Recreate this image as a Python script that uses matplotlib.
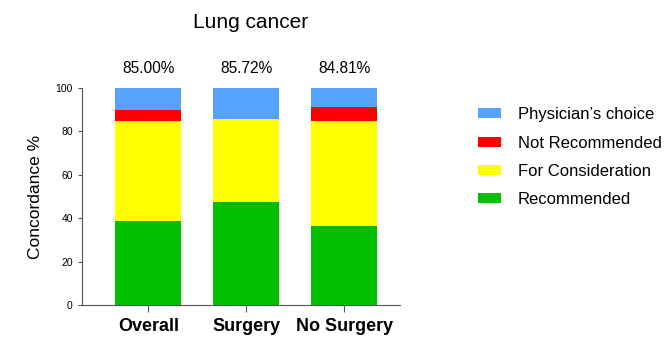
import numpy as np
import matplotlib.pyplot as plt

plt.rcParams['font.family'] = ['Liberation Sans', 'DejaVu Sans']

groups = ['Overall', 'Surgery', 'No Surgery']
recommended = [38.8, 47.5, 36.5]
consideration = [46.2, 38.22, 48.31]
not_recommended = [5.0, 0.0, 6.5]
physician = [10.0, 14.28, 8.69]
concordance = ['85.00%', '85.72%', '84.81%']

colors = {'Recommended': '#00C000', 'For Consideration': '#FFFF00',
          'Not Recommended': '#FF0000', "Physician\u2019s choice": '#55A3FF'}

fig = plt.figure(figsize=(6.71, 3.56), dpi=100)
ax = fig.add_axes([0.122, 0.143, 0.474, 0.61])

x = np.arange(len(groups))
w = 0.673
bottom = np.zeros(len(groups))
series = [('Recommended', recommended), ('For Consideration', consideration),
          ('Not Recommended', not_recommended), ("Physician\u2019s choice", physician)]
handles = []
for name, vals in series:
    b = ax.bar(x, vals, w, bottom=bottom, color=colors[name], label=name, linewidth=0)
    handles.append(b)
    bottom += np.array(vals)

for i, t in enumerate(concordance):
    ax.text(x[i], 109, t, ha='center', va='center', fontsize=11.2, clip_on=False)

ax.set_xlim(-0.68, 2.57)
ax.set_ylim(0, 100)
ax.set_yticks([0, 20, 40, 60, 80, 100])
ax.tick_params(axis='y', labelsize=7.5, length=3, color='#555555')
ax.set_xticks(x)
ax.set_xticklabels(groups, fontsize=13, fontweight='bold')
ax.tick_params(axis='x', length=5, color='#555555', pad=4)
for s in ['top', 'right']:
    ax.spines[s].set_visible(False)
for s in ['left', 'bottom']:
    ax.spines[s].set_color('#555555')

ax.set_ylabel('Concordance %', fontsize=12.5, labelpad=9)
fig.text(0.373, 0.938, 'Lung cancer', ha='center', va='center', fontsize=15)

leg = fig.legend(handles[::-1], [s[0] for s in series][::-1], loc='upper left',
                 bbox_to_anchor=(0.69, 0.741), frameon=False, fontsize=12,
                 handlelength=1.4, handleheight=0.55, labelspacing=0.8, handletextpad=1.0)

fig.savefig('out.png', dpi=100)
